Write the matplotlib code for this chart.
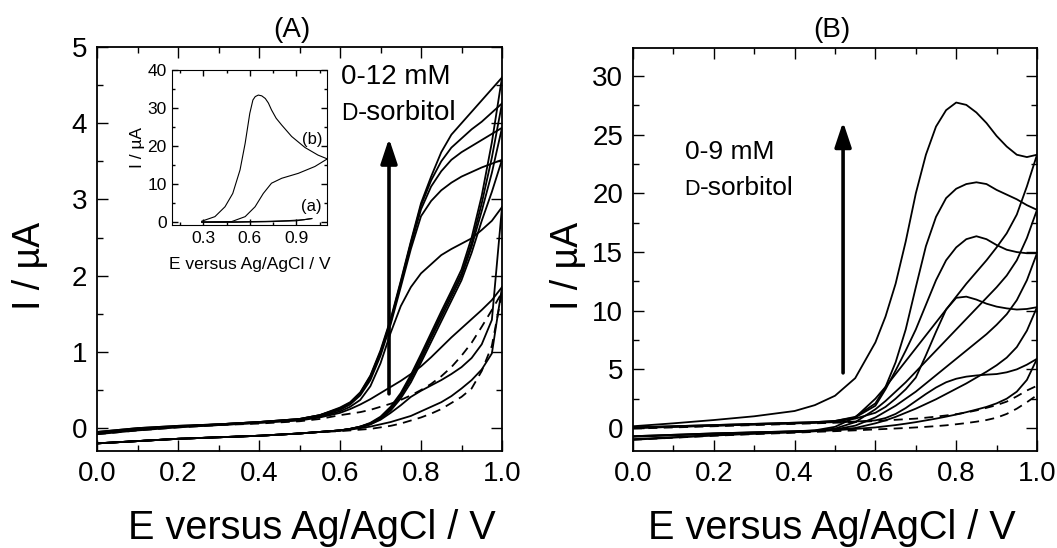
import matplotlib
matplotlib.use("Agg")
import matplotlib.pyplot as plt
from matplotlib.ticker import MultipleLocator, FixedLocator
from matplotlib.offsetbox import TextArea, HPacker, AnnotationBbox

plt.rcParams['font.family'] = ['Liberation Sans', 'DejaVu Sans']

# ---------------- Panel A data (0-12 mM) ----------------
E_A = [0.0, 0.1, 0.2, 0.3, 0.4, 0.5, 0.55, 0.6, 0.625, 0.65, 0.675, 0.7, 0.725,
       0.75, 0.775, 0.8, 0.825, 0.85, 0.875, 0.9, 0.925, 0.95, 0.975, 1.0]
A_low = [-0.2, -0.17, -0.14, -0.12, -0.10, -0.07, -0.05]
# reverse (upper) branches
A_rev_a = [-0.05, 0.0, 0.03, 0.05, 0.08, 0.12, 0.17, 0.27, 0.34, 0.47, 0.69, 1.02, 1.43, 1.93, 2.45, 2.95, 3.3, 3.62, 3.85, 4.0, 4.15, 4.3, 4.45, 4.6]
A_rev_b = [-0.05, 0.0, 0.03, 0.05, 0.08, 0.12, 0.17, 0.26, 0.33, 0.46, 0.68, 1.0, 1.41, 1.91, 2.43, 2.92, 3.25, 3.5, 3.68, 3.8, 3.92, 4.02, 4.14, 4.26]
A_rev_c = [-0.06, -0.01, 0.02, 0.05, 0.08, 0.12, 0.17, 0.25, 0.32, 0.45, 0.66, 0.98, 1.39, 1.89, 2.4, 2.87, 3.17, 3.37, 3.52, 3.62, 3.7, 3.78, 3.86, 3.94]
A_rev_d = [-0.06, -0.01, 0.02, 0.05, 0.08, 0.11, 0.16, 0.24, 0.31, 0.43, 0.63, 0.95, 1.36, 1.85, 2.35, 2.78, 2.98, 3.12, 3.22, 3.3, 3.36, 3.42, 3.47, 3.52]
A_rev_e = [-0.07, -0.02, 0.02, 0.04, 0.07, 0.11, 0.15, 0.22, 0.28, 0.37, 0.55, 0.85, 1.25, 1.6, 1.85, 2.03, 2.15, 2.27, 2.35, 2.42, 2.49, 2.6, 2.72, 2.9]
A_rev_f = [-0.08, -0.03, 0.01, 0.04, 0.07, 0.1, 0.14, 0.2, 0.25, 0.31, 0.38, 0.46, 0.54, 0.62, 0.71, 0.81, 0.93, 1.06, 1.19, 1.31, 1.43, 1.55, 1.68, 1.85]
A_rev_0 = [-0.08, -0.03, 0.01, 0.04, 0.06, 0.09, 0.12, 0.17, 0.19, 0.21, 0.24, 0.28, 0.32, 0.37, 0.43, 0.5, 0.58, 0.68, 0.8, 0.95, 1.12, 1.33, 1.55, 1.78]
# forward (lower) branches
A_fwd_a = A_low + [-0.03, -0.01, 0.02, 0.07, 0.15, 0.28, 0.46, 0.7, 0.97, 1.25, 1.53, 1.8, 2.08, 2.5, 3.05, 3.75, 4.6]
A_fwd_b = A_low + [-0.03, -0.01, 0.02, 0.06, 0.14, 0.26, 0.44, 0.67, 0.94, 1.21, 1.49, 1.76, 2.03, 2.43, 2.95, 3.55, 4.26]
A_fwd_c = A_low + [-0.03, -0.01, 0.02, 0.06, 0.13, 0.25, 0.42, 0.64, 0.9, 1.18, 1.45, 1.72, 1.99, 2.38, 2.85, 3.35, 3.94]
A_fwd_d = A_low + [-0.03, -0.01, 0.01, 0.05, 0.12, 0.23, 0.39, 0.6, 0.86, 1.13, 1.4, 1.67, 1.94, 2.3, 2.72, 3.1, 3.52]
A_fwd_e = A_low + [-0.03, -0.01, 0.01, 0.05, 0.11, 0.2, 0.3, 0.41, 0.49, 0.56, 0.63, 0.71, 0.8, 0.92, 1.1, 1.42, 2.9]
A_fwd_f = A_low + [-0.03, -0.02, 0.0, 0.02, 0.05, 0.08, 0.12, 0.16, 0.22, 0.28, 0.34, 0.42, 0.52, 0.63, 0.77, 0.98, 1.85]
A_fwd_0 = A_low + [-0.04, -0.03, -0.02, -0.01, 0.01, 0.03, 0.06, 0.1, 0.14, 0.19, 0.25, 0.33, 0.41, 0.52, 0.75, 1.08, 1.78]

# ---------------- Inset data ----------------
INS_b_fwd_E = [0.29, 0.375, 0.44, 0.49, 0.537, 0.57, 0.60, 0.62, 0.635, 0.655, 0.677, 0.70, 0.72, 0.74, 0.77, 0.806, 0.87, 0.956, 1.04, 1.1]
INS_b_fwd_I = [0.2, 1.4, 4.0, 7.5, 13.7, 20.7, 28.6, 32.1, 33.0, 33.4, 33.2, 32.5, 31.3, 29.5, 27.3, 25.5, 22.5, 19.6, 17.6, 16.6]
INS_b_rev_E = [1.1, 1.02, 0.913, 0.806, 0.74, 0.687, 0.634, 0.57, 0.483, 0.29]
INS_b_rev_I = [16.6, 14.6, 12.8, 11.5, 10.2, 7.5, 4.0, 1.4, 0.1, 0.0]
INS_a_fwd_E = [0.29, 0.5, 0.7, 0.85, 0.95, 1.0]
INS_a_fwd_I = [0.0, 0.05, 0.15, 0.35, 0.6, 0.9]
INS_a_rev_E = [1.0, 0.9, 0.7, 0.5, 0.29]
INS_a_rev_I = [0.9, 0.3, 0.05, -0.1, -0.1]

# ---------------- Panel B data (0-9 mM) ----------------
E_B = [0.0, 0.1, 0.2, 0.3, 0.4, 0.45, 0.5, 0.55, 0.6, 0.625, 0.65, 0.675, 0.7, 0.725,
       0.75, 0.775, 0.8, 0.825, 0.85, 0.875, 0.9, 0.925, 0.95, 0.975, 1.0]
B_fwd_1 = [0.15, 0.4, 0.68, 1.0, 1.45, 1.95, 2.75, 4.25, 7.3, 9.5, 12.3, 15.9, 20.0, 23.3, 25.7, 27.1, 27.75, 27.55, 26.9, 26.0, 24.9, 24.0, 23.3, 23.1, 23.3]
B_fwd_2 = [0.05, 0.15, 0.25, 0.35, 0.45, 0.5, 0.6, 0.95, 2.1, 3.5, 5.6, 8.4, 12.0, 15.5, 18.0, 19.6, 20.4, 20.8, 20.95, 20.8, 20.3, 19.9, 19.5, 19.0, 18.6]
B_fwd_3 = [0.05, 0.15, 0.25, 0.35, 0.45, 0.5, 0.6, 0.9, 1.9, 3.3, 4.9, 6.6, 8.4, 10.5, 12.6, 14.3, 15.4, 16.1, 16.35, 16.1, 15.6, 15.2, 15.0, 14.9, 14.9]
B_fwd_4 = [0.0, 0.1, 0.2, 0.3, 0.4, 0.45, 0.55, 0.8, 1.3, 1.8, 2.5, 3.3, 4.3, 6.2, 8.2, 10.1, 11.1, 11.2, 10.95, 10.6, 10.35, 10.2, 10.1, 10.15, 10.3]
B_fwd_5 = [0.0, 0.1, 0.2, 0.3, 0.4, 0.45, 0.5, 0.55, 0.65, 0.85, 1.2, 1.7, 2.3, 2.9, 3.45, 3.9, 4.2, 4.38, 4.48, 4.55, 4.6, 4.75, 5.0, 5.4, 5.9]
B_fwd_0 = [-0.05, 0.05, 0.15, 0.25, 0.35, 0.4, 0.45, 0.5, 0.6, 0.65, 0.7, 0.75, 0.8, 0.88, 0.97, 1.07, 1.18, 1.32, 1.5, 1.72, 1.95, 2.25, 2.7, 3.2, 3.6]
B_rev_1 = [-0.7, -0.58, -0.46, -0.37, -0.28, -0.2, 0.1, 0.9, 2.5, 3.5, 4.6, 5.7, 6.8, 7.9, 9.0, 10.1, 11.2, 12.3, 13.3, 14.3, 15.4, 16.6, 18.2, 20.6, 23.3]
B_rev_2 = [-0.7, -0.58, -0.46, -0.37, -0.28, -0.22, -0.05, 0.5, 1.6, 2.3, 3.1, 3.9, 4.8, 5.7, 6.6, 7.5, 8.4, 9.3, 10.2, 11.1, 12.0, 13.0, 14.3, 16.2, 18.6]
B_rev_3 = [-0.75, -0.62, -0.49, -0.39, -0.3, -0.23, -0.12, 0.2, 0.9, 1.4, 1.9, 2.5, 3.1, 3.8, 4.5, 5.2, 5.9, 6.6, 7.3, 8.0, 8.8, 9.7, 10.9, 12.6, 14.9]
B_rev_4 = [-0.95, -0.78, -0.6, -0.46, -0.34, -0.26, -0.15, 0.0, 0.4, 0.65, 0.95, 1.3, 1.65, 2.05, 2.45, 2.9, 3.35, 3.8, 4.3, 4.8, 5.35, 6.0, 6.9, 8.3, 10.3]
B_rev_5 = [-1.0, -0.82, -0.64, -0.49, -0.36, -0.28, -0.19, -0.08, 0.05, 0.15, 0.25, 0.37, 0.5, 0.65, 0.8, 0.97, 1.15, 1.35, 1.57, 1.8, 2.1, 2.5, 3.1, 4.1, 5.9]
B_rev_0 = [-1.0, -0.83, -0.66, -0.52, -0.4, -0.33, -0.27, -0.2, -0.12, -0.08, -0.04, 0.0, 0.05, 0.1, 0.16, 0.23, 0.32, 0.42, 0.54, 0.68, 0.88, 1.2, 1.65, 2.2, 2.8]

X_TICKS = [0.0, 0.2, 0.4, 0.6, 0.8, 1.0]
X_TICKLABELS = ["0.0", "0.2", "0.4", "0.6", "0.8", "1.0"]
A_YTICKS = [0, 1, 2, 3, 4, 5]
B_YTICKS = [0, 5, 10, 15, 20, 25, 30]
INS_XTICKS = [0.3, 0.6, 0.9]
INS_YTICKS = [0, 10, 20, 30, 40]

XLABEL = "E versus Ag/AgCl / V"
YLABEL = "I / µA"

W, H = 1057, 548
fig = plt.figure(figsize=(W / 100, H / 100), dpi=100)
axA = fig.add_axes([97 / W, 1 - 451 / H, 405 / W, 404 / H])
axB = fig.add_axes([633 / W, 1 - 451 / H, 404 / W, 403 / H])
axI = fig.add_axes([172.3 / W, 1 - 225 / H, 155 / W, 155 / H])

LW = 1.3
DASH = (0, (5, 3.5))


def style(ax, fs, maj, mino, pad):
    ax.tick_params(which='both', direction='in', top=True, right=True,
                   labelsize=fs, width=1.0, pad=pad, colors='black')
    ax.tick_params(which='major', length=maj)
    ax.tick_params(which='minor', length=mino)
    for s in ax.spines.values():
        s.set_linewidth(1.3)


# ---- Panel A ----
for f, r in [(A_fwd_a, A_rev_a), (A_fwd_b, A_rev_b), (A_fwd_c, A_rev_c),
             (A_fwd_d, A_rev_d), (A_fwd_e, A_rev_e), (A_fwd_f, A_rev_f)]:
    axA.plot(E_A, f, color='black', lw=LW)
    axA.plot(E_A, r, color='black', lw=LW)
axA.plot(E_A, A_fwd_0, color='black', lw=LW, linestyle=DASH)
axA.plot(E_A, A_rev_0, color='black', lw=LW, linestyle=DASH)
axA.set_xlim(0, 1.0)
axA.set_ylim(-0.3, 5)
axA.xaxis.set_major_locator(FixedLocator(X_TICKS))
axA.set_xticklabels(X_TICKLABELS)
axA.xaxis.set_minor_locator(MultipleLocator(0.1))
axA.yaxis.set_major_locator(FixedLocator(A_YTICKS))
axA.yaxis.set_minor_locator(MultipleLocator(0.5))
style(axA, 20, 8, 4, 7)
axA.annotate("", xy=(0.721, 3.8), xytext=(0.721, 0.45),
             arrowprops=dict(arrowstyle="-|>,head_length=0.75,head_width=0.25",
                             lw=2.6, color='black', mutation_scale=20,
                             shrinkA=0, shrinkB=0))
axA.text(0.603, 4.6, "0-12 mM", fontsize=20, ha='left', va='center')

# ---- Panel B ----
for f, r in [(B_fwd_1, B_rev_1), (B_fwd_2, B_rev_2), (B_fwd_3, B_rev_3),
             (B_fwd_4, B_rev_4), (B_fwd_5, B_rev_5)]:
    axB.plot(E_B, f, color='black', lw=LW)
    axB.plot(E_B, r, color='black', lw=LW)
axB.plot(E_B, B_fwd_0, color='black', lw=LW, linestyle=DASH)
axB.plot(E_B, B_rev_0, color='black', lw=LW, linestyle=DASH)
axB.set_xlim(0, 1.0)
axB.set_ylim(-1.96, 32.4)
axB.xaxis.set_major_locator(FixedLocator(X_TICKS))
axB.set_xticklabels(X_TICKLABELS)
axB.xaxis.set_minor_locator(MultipleLocator(0.1))
axB.yaxis.set_major_locator(FixedLocator(B_YTICKS))
axB.yaxis.set_minor_locator(MultipleLocator(2.5))
style(axB, 20, 8, 4, 7)
axB.annotate("", xy=(0.52, 26.1), xytext=(0.52, 4.7),
             arrowprops=dict(arrowstyle="-|>,head_length=0.75,head_width=0.25",
                             lw=2.6, color='black', mutation_scale=20,
                             shrinkA=0, shrinkB=0))
axB.text(0.128, 23.5, "0-9 mM", fontsize=19, ha='left', va='center')


def sorbitol(ax, x, y, big):
    d = TextArea("D", textprops=dict(size=big * 0.82, family=['Liberation Sans']))
    rest = TextArea("-sorbitol", textprops=dict(size=big, family=['Liberation Sans']))
    box = HPacker(children=[d, rest], align="baseline", pad=0, sep=0)
    ab = AnnotationBbox(box, (x, y), xycoords='data', box_alignment=(0, 0.5),
                        frameon=False, pad=0)
    ax.add_artist(ab)


sorbitol(axA, 0.603, 4.13, 20)
sorbitol(axB, 0.128, 20.5, 19)

# ---- Inset ----
axI.plot(INS_b_fwd_E, INS_b_fwd_I, color='black', lw=0.8)
axI.plot(INS_b_rev_E, INS_b_rev_I, color='black', lw=0.8)
axI.plot(INS_a_fwd_E, INS_a_fwd_I, color='black', lw=0.8)
axI.plot(INS_a_rev_E, INS_a_rev_I, color='black', lw=0.8)
axI.set_xlim(0.1, 1.1)
axI.set_ylim(-0.8, 40)
axI.xaxis.set_major_locator(FixedLocator(INS_XTICKS))
axI.xaxis.set_minor_locator(MultipleLocator(0.15))
axI.yaxis.set_major_locator(FixedLocator(INS_YTICKS))
axI.yaxis.set_minor_locator(MultipleLocator(5))
style(axI, 12.5, 4, 2, 4)
for s in axI.spines.values():
    s.set_linewidth(0.8)
axI.text(1.0, 21.8, "(b)", fontsize=12, ha='center', va='center')
axI.text(1.0, 4.0, "(a)", fontsize=12, ha='center', va='center')
axI.set_xlabel(XLABEL, fontsize=12.5, labelpad=8)
axI.set_ylabel(YLABEL, fontsize=12.5, labelpad=2)

# ---- Titles and axis labels ----
fig.text(292 / W, 1 - 30 / H, "(A)", fontsize=20, ha='center', va='center')
fig.text(832 / W, 1 - 30 / H, "(B)", fontsize=20, ha='center', va='center')
fig.text(312 / W, 1 - 528 / H, XLABEL, fontsize=28.5, ha='center', va='center')
fig.text(832 / W, 1 - 528 / H, XLABEL, fontsize=28.5, ha='center', va='center')
fig.text(30 / W, 1 - 266 / H, YLABEL, fontsize=27, ha='center', va='center', rotation=90)
fig.text(568 / W, 1 - 266 / H, YLABEL, fontsize=27, ha='center', va='center', rotation=90)

fig.savefig("out.png", dpi=100)
